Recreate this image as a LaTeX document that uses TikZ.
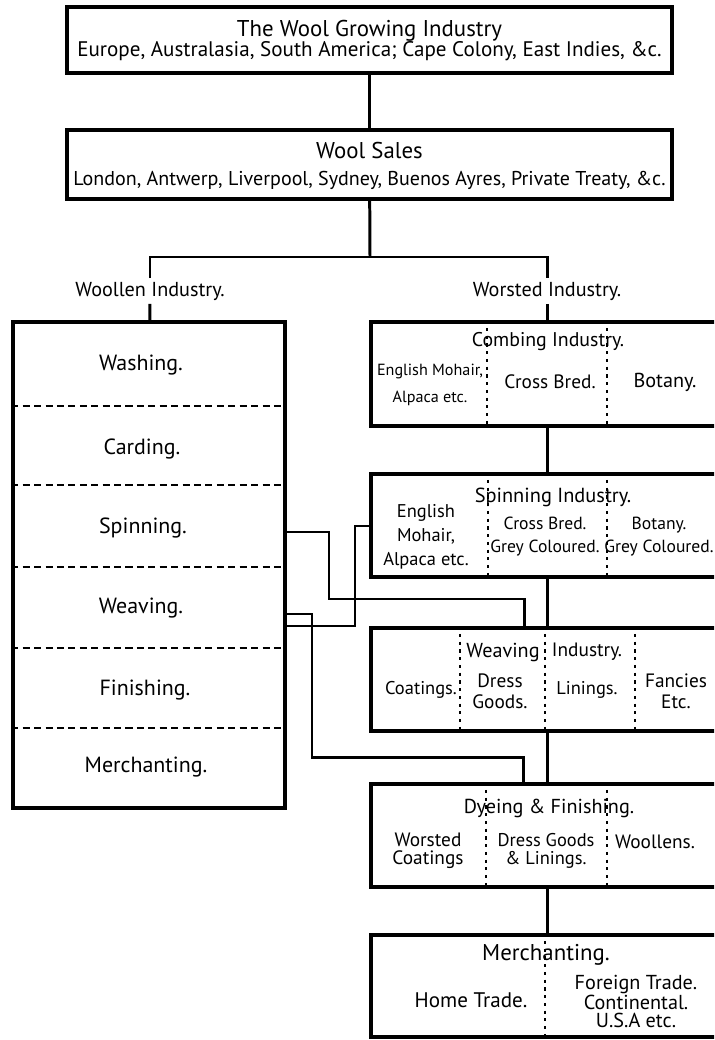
\documentclass[tikz,border=0pt]{standalone}
\usepackage{fontspec}
\setmainfont{PT Sans}
\usetikzlibrary{positioning}
\tikzset{box/.style = {draw, line width = 2pt, inner sep = 0pt, align = center}}
\tikzset{link/.style = {line width = 1.7pt}}
\tikzset{rowline/.style = {line width = 0.7pt, dash pattern = on 4pt off 2.5pt}}
\tikzset{divider/.style = {line width = 0.7pt, dash pattern = on 1.8pt off 2.6pt}}
\tikzset{txt/.style = {inner sep = 0pt, align = center, font = \fontsize{11}{13}\selectfont}}
\tikzset{small/.style = {txt, font = \fontsize{9}{11}\selectfont}}
\tikzset{row/.style = {txt, font = \fontsize{12.5}{14}\selectfont}}

\begin{document}
\begin{tikzpicture}[x = 0.02cm, y = -0.02cm]
\clip (0,0) rectangle (714,1040);
\node[box, minimum width = 12.1cm, minimum height = 1.32cm, font = \fontsize{12}{13}\selectfont] (grow) at (369.5,40) {};
\node[txt, font = \fontsize{13}{13}\selectfont] (grow-title) at (369.5,31) {The Wool Growing Industry};
\node[txt, font = \fontsize{12}{13}\selectfont] (grow-places) at (369.5,51) {Europe, Australasia, South America; Cape Colony, East Indies, \&c.};
\node[box, minimum width = 12.1cm, minimum height = 1.38cm] (sales) at (369.5,164.5) {};
\node[txt, font = \fontsize{13}{13}\selectfont] (sales-title) at (369.5,151) {Wool Sales};
\node[txt, font = \fontsize{11.4}{12}\selectfont] (sales-places) at (369.5,180) {London, Antwerp, Liverpool, Sydney, Buenos Ayres, Private Treaty, \&c.};
\coordinate (fork) at (370,257);
\node[txt, minimum height = 0.5cm, font = \fontsize{11.5}{13}\selectfont] (wlab) at (150,291) {Woollen Industry.};
\node[txt, minimum height = 0.5cm, font = \fontsize{11.5}{13}\selectfont] (slab) at (547,291) {Worsted Industry.};

\node[box, minimum width = 5.44cm, minimum height = 9.72cm] (woollen) at (149,565) {};
\draw[rowline] (woollen.west |- 0,406) -- (woollen.east |- 0,406);
\draw[rowline] (woollen.west |- 0,485) -- (woollen.east |- 0,485);
\draw[rowline] (woollen.west |- 0,567) -- (woollen.east |- 0,567);
\draw[rowline] (woollen.west |- 0,648) -- (woollen.east |- 0,648);
\draw[rowline] (woollen.west |- 0,728) -- (woollen.east |- 0,728);
\node[row] (wl-wash) at (141,365) {Washing.};
\node[row] (wl-card) at (142,449) {Carding.};
\node[row] (wl-spin) at (143,528) {Spinning.};
\node[row] (wl-weave) at (141,608) {Weaving.};
\node[row] (wl-finish) at (145,690) {Finishing.};
\node[row] (wl-merch) at (146,767) {Merchanting.};

\node[box, minimum width = 7.04cm, minimum height = 2.08cm] (combing) at (547,374) {};
\draw[divider] (combing.north -| 487,0) -- (combing.south -| 487,0);
\draw[divider] (combing.north -| 607,0) -- (combing.south -| 607,0);
\node[txt, font = \fontsize{11.3}{13}\selectfont] (comb-title) at (548,342) {Combing Industry.};
\node[small, font = \fontsize{9.2}{15}\selectfont] (comb-a) at (430,385) {English Mohair,\\Alpaca etc.};
\node[txt] (comb-b) at (550,382) {Cross Bred.};
\node[txt, font = \fontsize{11.5}{13}\selectfont] (comb-c) at (665,382) {Botany.};

\node[box, minimum width = 7.04cm, minimum height = 2.06cm] (spinning) at (547,525.5) {};
\draw[divider] (spinning.north -| 488,0) -- (spinning.south -| 488,0);
\draw[divider] (spinning.north -| 607,0) -- (spinning.south -| 607,0);
\node[txt, font = \fontsize{11.6}{13}\selectfont] (spin-title) at (553,497) {Spinning Industry.};
\node[txt, font = \fontsize{10.5}{13.5}\selectfont] (spin-a) at (426,537) {English\\Mohair,\\Alpaca etc.};
\node[txt, font = \fontsize{10}{13}\selectfont] (spin-b) at (545,536.5) {Cross Bred.\\Grey Coloured.};
\node[txt, font = \fontsize{10}{13}\selectfont] (spin-c) at (659,536.5) {Botany.\\Grey Coloured.};

\node[box, minimum width = 7.04cm, minimum height = 2.06cm] (weaving) at (547,679.5) {};
\draw[divider] (weaving.north -| 460,0) -- (weaving.south -| 460,0);
\draw[divider] (weaving.north -| 545,0) -- (weaving.south -| 545,0);
\draw[divider] (weaving.north -| 635,0) -- (weaving.south -| 635,0);
\node[txt, font = \fontsize{11.5}{13}\selectfont] (weave-t1) at (503,652) {Weaving};
\node[txt] (weave-t2) at (587,652) {Industry.};
\node[txt, font = \fontsize{10.5}{13}\selectfont] (weave-a) at (421,690) {Coatings.};
\node[txt, font = \fontsize{11}{12}\selectfont] (weave-b) at (500,691) {Dress\\Goods.};
\node[txt, font = \fontsize{10.5}{13}\selectfont] (weave-c) at (587,690) {Linings.};
\node[txt, font = \fontsize{11}{12}\selectfont] (weave-d) at (676,691) {Fancies\\Etc.};

\node[box, minimum width = 7.04cm, minimum height = 2.06cm] (dyeing) at (547,835.5) {};
\draw[divider] (dyeing.north -| 486,0) -- (dyeing.south -| 486,0);
\draw[divider] (dyeing.north -| 607,0) -- (dyeing.south -| 607,0);
\node[txt, font = \fontsize{11.5}{13}\selectfont] (dye-title) at (549,808) {Dyeing \& Finishing.};
\node[txt, font = \fontsize{11}{10.5}\selectfont] (dye-a) at (428,851) {Worsted\\Coatings};
\node[txt, font = \fontsize{10.5}{10.5}\selectfont] (dye-b) at (546,851) {Dress Goods\\\& Linings.};
\node[txt] (dye-c) at (655,842) {Woollens.};

\node[box, minimum width = 7.04cm, minimum height = 2.04cm] (merch) at (547,986) {};
\draw[divider] (merch.north -| 545,0) -- (merch.south -| 545,0);
\node[txt, font = \fontsize{13}{13}\selectfont] (merch-title) at (546,955) {Merchanting.};
\node[txt, font = \fontsize{12}{13}\selectfont] (merch-a) at (471,1000) {Home Trade.};
\node[txt, font = \fontsize{11.5}{10}\selectfont] (merch-b) at (636,1001) {Foreign Trade.\\Continental.\\U.S.A etc.};

\draw[link] (grow) -- (sales);
\draw[link] (sales) -- (fork);
\draw[link] (wlab) -- (wlab |- fork) -- (slab |- fork) -- (slab);
\draw[link] (wlab) -- (woollen);
\draw[link] (slab) -- (combing);
\draw[link] (combing) -- (spinning);
\draw[link] (spinning) -- (weaving);
\draw[link] (weaving) -- (dyeing);
\draw[link] (dyeing) -- (merch);
\draw[link] (woollen.east |- 0,532) -| (329,599) -| (weaving.north -| 524,0);
\draw[link] (woollen.east |- 0,614) -| (312,757) -| (dyeing.north -| 523,0);
\draw[link] (woollen.east |- 0,626) -| (355,526) -- (spinning.west |- 0,526);
\end{tikzpicture}
\end{document}
